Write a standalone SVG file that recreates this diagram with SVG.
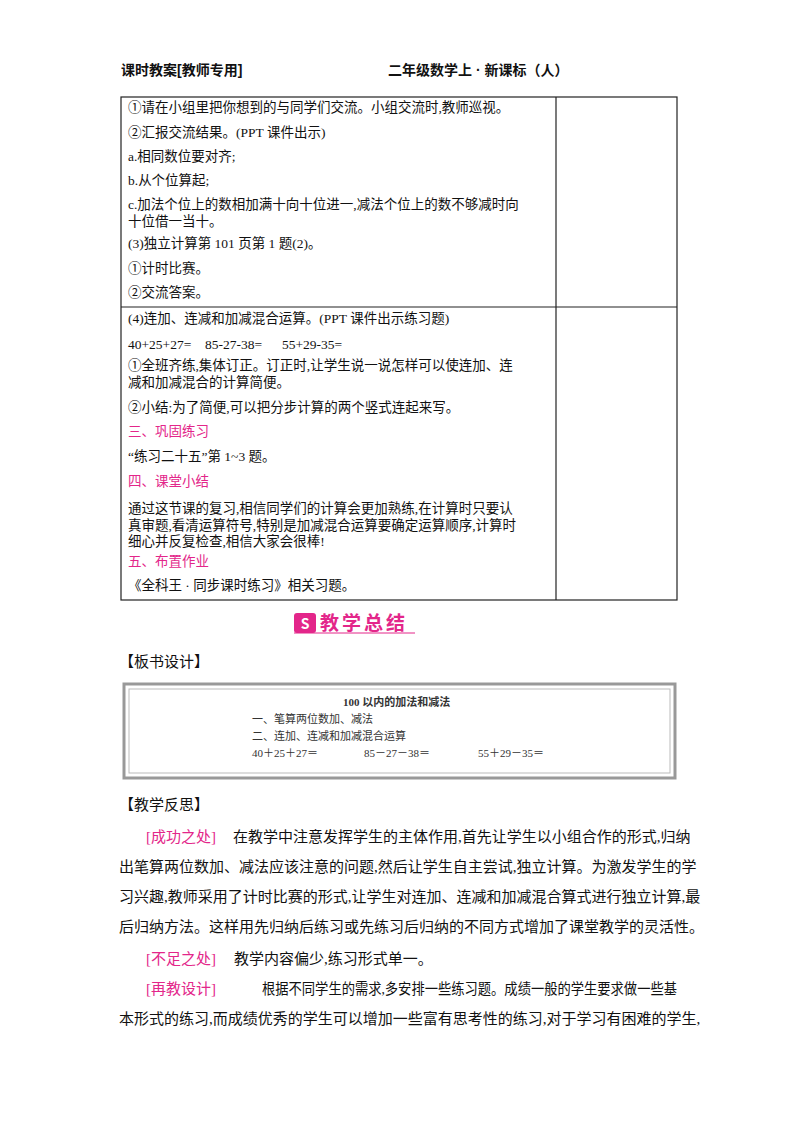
<svg xmlns="http://www.w3.org/2000/svg" width="800" height="1132" viewBox="0 0 800 1132">
<style>
text{font-family:"Liberation Serif","Noto Sans CJK SC",serif;fill:#111}
.t{font-size:13.5px}
.h{font-family:"Liberation Sans","Noto Sans CJK SC",sans-serif;font-size:14px;font-weight:bold}
.p{fill:#e3268a}
.r{font-size:15px}
.b{font-size:11px;fill:#333}
</style>
<rect width="800" height="1132" fill="#fff"/>
<text class="h" x="121" y="75">课时教案[教师专用]</text>
<text class="h" x="388" y="75">二年级数学上 · 新课标（人）</text>
<g fill="none" stroke="#222" stroke-width="1.2">
<rect x="121" y="97" width="556" height="503"/>
<line x1="556" y1="97" x2="556" y2="600"/>
<line x1="121" y1="307" x2="677" y2="307"/>
</g>
<g class="t">
<text x="128" y="112" class="t">①请在小组里把你想到的与同学们交流。小组交流时,教师巡视。</text>
<text x="128" y="137" class="t">②汇报交流结果。(PPT 课件出示)</text>
<text x="128" y="161" class="t">a.相同数位要对齐;</text>
<text x="128" y="185" class="t">b.从个位算起;</text>
<text x="128" y="209" class="t">c.加法个位上的数相加满十向十位进一,减法个位上的数不够减时向</text>
<text x="128" y="226" class="t">十位借一当十。</text>
<text x="128" y="248" class="t">(3)独立计算第 101 页第 1 题(2)。</text>
<text x="128" y="273" class="t">①计时比赛。</text>
<text x="128" y="297" class="t">②交流答案。</text>
<text x="128" y="323" class="t">(4)连加、连减和加减混合运算。(PPT 课件出示练习题)</text>
<text x="128" y="349" class="t">40+25+27=</text>
<text x="205" y="349" class="t">85-27-38=</text>
<text x="282" y="349" class="t">55+29-35=</text>
<text x="128" y="370" class="t">①全班齐练,集体订正。订正时,让学生说一说怎样可以使连加、连</text>
<text x="128" y="387" class="t">减和加减混合的计算简便。</text>
<text x="128" y="412" class="t">②小结:为了简便,可以把分步计算的两个竖式连起来写。</text>
<text x="128" y="436" class="t p">三、巩固练习</text>
<text x="128" y="461" class="t">“练习二十五”第 1~3 题。</text>
<text x="128" y="486" class="t p">四、课堂小结</text>
<text x="128" y="513" class="t">通过这节课的复习,相信同学们的计算会更加熟练,在计算时只要认</text>
<text x="128" y="530" class="t">真审题,看清运算符号,特别是加减混合运算要确定运算顺序,计算时</text>
<text x="128" y="546" class="t">细心并反复检查,相信大家会很棒!</text>
<text x="128" y="566" class="t p">五、布置作业</text>
<text x="128" y="590" class="t">《全科王 · 同步课时练习》相关习题。</text>
</g>
<g id="banner">
<rect x="294" y="613" width="22" height="20" rx="3" fill="#e3268a"/>
<text x="305" y="629" text-anchor="middle" style="font-family:'Noto Sans CJK SC',sans-serif;font-size:14px;fill:#fff;font-weight:bold">S</text>
<text x="320" y="630" style="font-family:'Noto Sans CJK SC',sans-serif;font-size:19px;font-weight:bold;fill:#e3268a;letter-spacing:3px">教学总结</text>
<line x1="294" y1="633" x2="415" y2="633" stroke="#e3268a" stroke-width="1"/>
</g>
<text x="119" y="667" style="font-family:'Noto Sans CJK SC',sans-serif;font-size:15px">【板书设计】</text>
<g id="board">
<rect x="124" y="684" width="551" height="94" fill="#fff" stroke="#999" stroke-width="3"/>
<rect x="129" y="689" width="541" height="84" fill="none" stroke="#bbb" stroke-width="1"/>
<text x="343" y="706" class="b" style="font-weight:bold">100 以内的加法和减法</text>
<text x="252" y="723" class="b">一、笔算两位数加、减法</text>
<text x="252" y="740" class="b">二、连加、连减和加减混合运算</text>
<text x="252" y="757" class="b">40＋25＋27＝</text>
<text x="364" y="757" class="b">85－27－38＝</text>
<text x="478" y="757" class="b">55＋29－35＝</text>
</g>
<text x="119" y="810" style="font-family:'Noto Sans CJK SC',sans-serif;font-size:15px">【教学反思】</text>
<g class="r">
<text x="146" y="842" class="r p">[成功之处]</text>
<text x="233" y="842" class="r">在教学中注意发挥学生的主体作用,首先让学生以小组合作的形式,归纳</text>
<text x="119" y="872" class="r">出笔算两位数加、减法应该注意的问题,然后让学生自主尝试,独立计算。为激发学生的学</text>
<text x="119" y="902" class="r">习兴趣,教师采用了计时比赛的形式,让学生对连加、连减和加减混合算式进行独立计算,最</text>
<text x="119" y="932" class="r">后归纳方法。这样用先归纳后练习或先练习后归纳的不同方式增加了课堂教学的灵活性。</text>
<text x="146" y="964" class="r p">[不足之处]</text>
<text x="234" y="964" class="r">教学内容偏少,练习形式单一。</text>
<text x="146" y="994" class="r p">[再教设计]</text>
<text x="262" y="994" class="r" textLength="415" lengthAdjust="spacingAndGlyphs">根据不同学生的需求,多安排一些练习题。成绩一般的学生要求做一些基</text>
<text x="119" y="1024" class="r">本形式的练习,而成绩优秀的学生可以增加一些富有思考性的练习,对于学习有困难的学生,</text>
</g>
</svg>
